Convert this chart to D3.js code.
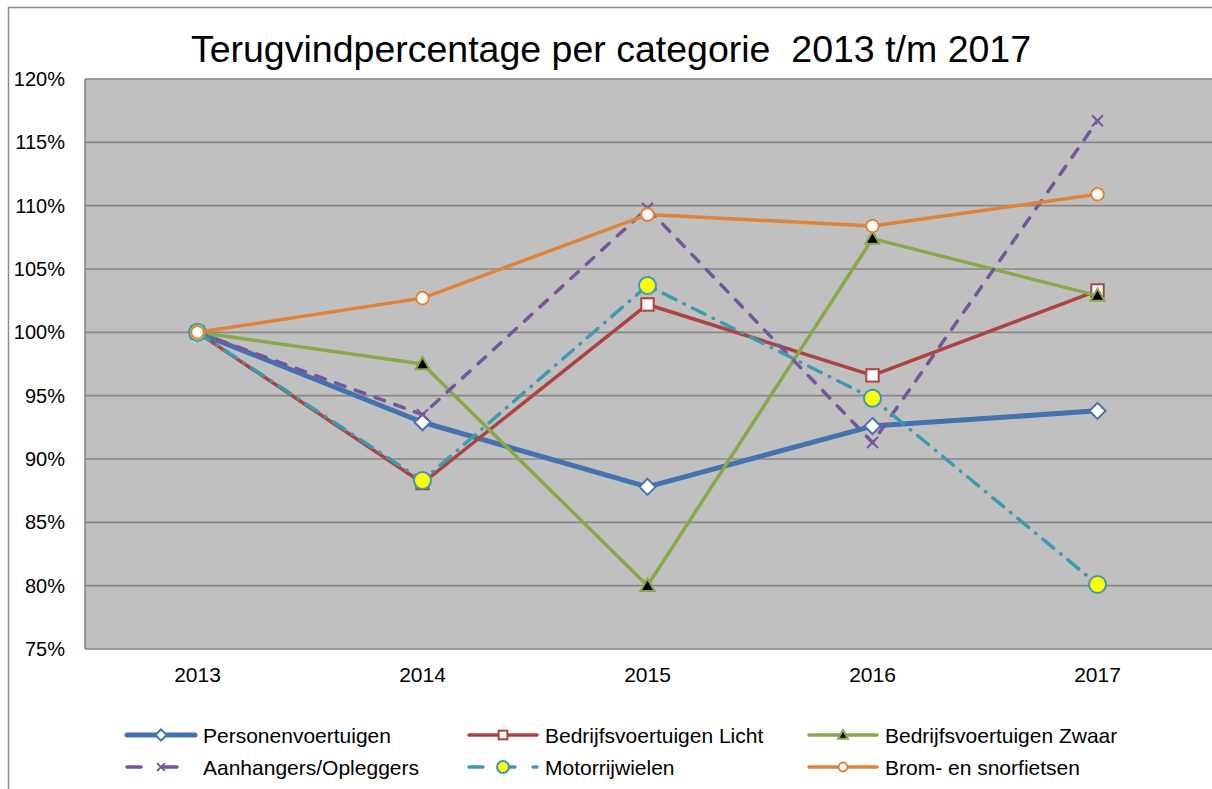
<!DOCTYPE html>
<html><head><meta charset="utf-8">
<script src="https://cdn.jsdelivr.net/npm/d3@7"></script>
<style>body{margin:0;background:#fff}svg{display:block;font-family:"Liberation Sans",Arial,sans-serif}</style>
</head><body><svg id="c" width="1212" height="789"></svg>
<script>
const years = ["2013","2014","2015","2016","2017"];
const personenvoertuigen = [100, 92.9, 87.8, 92.6, 93.8];
const bedrijfsLicht = [100, 88.1, 102.2, 96.6, 103.3];
const bedrijfsZwaar = [100, 97.5, 80.0, 107.4, 102.9];
const aanhangers = [100, 93.5, 109.8, 91.3, 116.7];
const motorrijwielen = [100, 88.3, 103.7, 94.8, 80.1];
const brom = [100, 102.7, 109.3, 108.4, 110.9];
const yTicks = [75, 80, 85, 90, 95, 100, 105, 110, 115, 120];
const title = "Terugvindpercentage per categorie  2013 t/m 2017";

const series = [
  {name:"Personenvoertuigen", values:personenvoertuigen, color:"#4472AF", width:5, dash:null, marker:"diamond"},
  {name:"Bedrijfsvoertuigen Licht", values:bedrijfsLicht, color:"#AD4340", width:3.5, dash:null, marker:"square"},
  {name:"Bedrijfsvoertuigen Zwaar", values:bedrijfsZwaar, color:"#88A84A", width:3.5, dash:null, marker:"triangle"},
  {name:"Aanhangers/Opleggers", values:aanhangers, color:"#73579B", width:3.5, dash:"10,11", marker:"x"},
  {name:"Motorrijwielen", values:motorrijwielen, color:"#3C9BB2", width:3.5, dash:"14,9,0.5,9", marker:"bigcircle"},
  {name:"Brom- en snorfietsen", values:brom, color:"#E0833A", width:3.5, dash:null, marker:"circle"}
];

const svg = d3.select("#c");
const L = 85, R = 1210, T = 79, B = 649;
const x = d3.scaleBand().domain(years).range([L, R]);
const y = d3.scaleLinear().domain([75, 120]).range([B, T]);

// outer frame
svg.append("path").attr("d", `M8.5,789 V7.5 H1212`).attr("fill","none").attr("stroke","#8c8c8c").attr("stroke-width",1.5);

// title
svg.append("text").attr("x", 611).attr("y", 62).attr("text-anchor","middle")
  .attr("font-size", 37.5).attr("fill","#000").style("white-space","pre").text(title);

// plot area
svg.append("rect").attr("x", L).attr("y", T).attr("width", R - L + 10).attr("height", B - T).attr("fill", "#C0C0C0");
svg.append("g").selectAll("line").data(yTicks).join("line")
  .attr("x1", L).attr("x2", 1212).attr("y1", d => y(d)).attr("y2", d => y(d))
  .attr("stroke", "#878787").attr("stroke-width", 1.6);
svg.append("line").attr("x1", L).attr("x2", L).attr("y1", T).attr("y2", B).attr("stroke","#878787").attr("stroke-width",1.6);

// axes
const yAxis = d3.axisLeft(y).tickValues(yTicks).tickFormat(d => d + "%").tickSize(0).tickPadding(20);
const gy = svg.append("g").attr("transform", `translate(${L},0)`).call(yAxis);
gy.select(".domain").remove();
gy.selectAll("text").attr("font-size", 20).attr("fill", "#000").attr("font-family", "Liberation Sans, Arial, sans-serif");

const xAxis = d3.axisBottom(x).tickSize(0).tickPadding(18);
const gx = svg.append("g").attr("transform", `translate(0,${B})`).call(xAxis);
gx.select(".domain").remove();
gx.selectAll("text").attr("font-size", 21).attr("fill", "#000").attr("font-family", "Liberation Sans, Arial, sans-serif");

function drawMarker(g, type, color, cx, cy, s) {
  s = s || 1;
  if (type === "diamond") {
    const r = 8 * s;
    g.append("path").attr("d", `M${cx},${cy-r}L${cx+r},${cy}L${cx},${cy+r}L${cx-r},${cy}Z`)
      .attr("fill","#fff").attr("stroke",color).attr("stroke-width",2);
  } else if (type === "square") {
    const h = 6.2 * s;
    g.append("rect").attr("x",cx-h).attr("y",cy-h).attr("width",2*h).attr("height",2*h)
      .attr("fill","#fff").attr("stroke",color).attr("stroke-width",2);
  } else if (type === "triangle") {
    const h = 7 * s;
    g.append("path").attr("d", `M${cx},${cy-h}L${cx+h},${cy+h*0.75}L${cx-h},${cy+h*0.75}Z`)
      .attr("fill","#000").attr("stroke",color).attr("stroke-width",2);
  } else if (type === "x") {
    const h = 5.5 * s;
    g.append("path").attr("d", `M${cx-h},${cy-h}L${cx+h},${cy+h}M${cx-h},${cy+h}L${cx+h},${cy-h}`)
      .attr("fill","none").attr("stroke",color).attr("stroke-width",2);
  } else if (type === "bigcircle") {
    g.append("circle").attr("cx",cx).attr("cy",cy).attr("r",8.5*s)
      .attr("fill","#FFFF00").attr("stroke",color).attr("stroke-width",2);
  } else if (type === "circle") {
    g.append("circle").attr("cx",cx).attr("cy",cy).attr("r",6.3*s)
      .attr("fill","#fff").attr("stroke",color).attr("stroke-width",2);
  }
}

const line = d3.line().x((d, i) => x(years[i]) + x.bandwidth() / 2).y(d => y(d));
series.forEach(s => {
  const g = svg.append("g");
  g.append("path").attr("d", line(s.values)).attr("fill","none").attr("stroke", s.color)
    .attr("stroke-width", s.width).attr("stroke-linecap", s.dash ? "round" : "butt")
    .attr("stroke-linejoin","round").attr("stroke-dasharray", s.dash);
  s.values.forEach((v, i) => drawMarker(g, s.marker, s.color, x(years[i]) + x.bandwidth() / 2, y(v)));
});

// legend
const legCols = [125, 467, 807], legRows = [735, 767];
series.forEach((s, i) => {
  const lx = legCols[i % 3], ly = legRows[Math.floor(i / 3)];
  const g = svg.append("g");
  g.append("line").attr("x1", lx + 2).attr("x2", lx + 70).attr("y1", ly).attr("y2", ly)
    .attr("stroke", s.color).attr("stroke-width", s.width)
    .attr("stroke-linecap","round").attr("stroke-dasharray", s.dash ? (s.marker === "x" ? "14,22" : "14,18") : null);
  drawMarker(g, s.marker, s.color, lx + 36, ly, 0.7);
  g.append("text").attr("x", lx + 78).attr("y", ly + 7.5).attr("font-size", 21).attr("fill","#000").text(s.name);
});
</script></body></html>
